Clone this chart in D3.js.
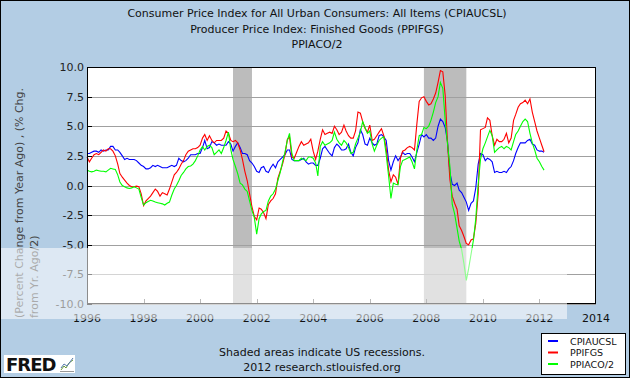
<!DOCTYPE html>
<html><head><meta charset="utf-8">
<script src="https://cdn.jsdelivr.net/npm/d3@7"></script>
<style>html,body{margin:0;padding:0;background:#b3cde4;}svg{display:block;}</style>
</head><body>
<svg id="chart" width="630" height="378"></svg>
<script>
// ---- DATA (monthly, Jan 1996 .. Mar 2012) ----
const startYear = 1996;
const seriesNames = ["CPIAUCSL", "PPIFGS", "PPIACO/2"];
const titleLines = [
  "Consumer Price Index for All Urban Consumers: All Items (CPIAUCSL)",
  "Producer Price Index: Finished Goods (PPIFGS)",
  "PPIACO/2"
];
const cpiaucsl = [
  2.7,2.7,2.8,2.9,2.9,2.8,3.0,2.9,3.0,3.0,3.3,3.3,
  3.0,3.0,2.8,2.5,2.2,2.3,2.2,2.2,2.2,2.1,1.9,1.7,
  1.6,1.4,1.4,1.5,1.7,1.6,1.7,1.6,1.5,1.5,1.5,1.6,
  1.7,1.6,1.7,2.3,2.1,2.0,2.1,2.3,2.6,2.6,2.6,2.7,
  2.7,3.2,3.8,3.1,3.2,3.7,3.6,3.4,3.5,3.4,3.4,3.4,
  3.7,3.5,2.9,3.3,3.6,3.2,2.7,2.7,2.6,2.1,1.9,1.6,
  1.2,1.1,1.5,1.6,1.2,1.1,1.5,1.8,1.5,2.0,2.2,2.4,
  2.6,3.0,3.0,2.2,2.1,2.1,2.1,2.2,2.3,2.0,1.8,1.9,
  1.9,1.7,1.7,2.3,3.1,3.3,3.0,2.7,2.5,3.2,3.5,3.3,
  3.0,3.0,3.1,3.5,2.8,2.5,3.2,3.6,4.7,4.3,3.5,3.4,
  4.0,3.6,3.4,3.5,4.2,4.3,4.1,3.8,2.1,1.3,2.0,2.5,
  2.1,2.4,2.8,2.6,2.7,2.7,2.4,2.0,2.8,3.5,4.3,4.1,
  4.3,4.0,4.0,3.8,4.0,5.0,5.6,5.4,4.9,3.7,1.1,0.1,
  0.0,0.2,-0.4,-0.6,-1.0,-1.4,-2.1,-1.5,-1.3,-0.2,1.8,2.7,
  2.6,2.1,2.3,2.2,2.0,1.1,1.2,1.1,1.1,1.2,1.1,1.4,
  1.6,2.1,2.7,3.2,3.6,3.6,3.6,3.8,3.9,3.5,3.4,3.0,
  2.9,2.9,2.8
];
const ppifgs = [
  2.4,2.0,2.3,2.6,2.7,2.6,2.8,3.0,2.9,3.1,3.1,2.9,
  2.5,1.8,1.0,0.7,0.45,0.2,0.0,-0.1,-0.1,-0.05,-0.1,-0.7,
  -1.7,-1.3,-1.1,-0.9,-0.6,-0.3,-0.5,-0.9,-0.6,-0.7,-0.8,-0.3,
  0.3,0.9,1.1,1.4,1.8,2.1,2.6,2.9,3.0,3.1,3.1,3.2,
  3.4,4.0,4.3,3.8,4.2,3.8,3.6,3.8,3.8,3.8,4.0,4.6,
  4.4,3.8,3.7,3.8,3.6,3.0,2.2,1.2,0.4,-0.7,-1.8,-2.6,
  -2.9,-1.9,-2.0,-2.3,-2.8,-1.6,-1.3,-1.1,-0.7,0.6,1.2,1.8,
  2.6,3.9,4.1,2.4,2.3,2.8,3.3,3.7,3.4,3.5,3.6,3.9,
  2.9,2.2,2.9,3.9,4.7,4.3,4.4,4.5,4.4,5.0,4.7,4.3,
  4.5,5.1,4.6,4.2,4.0,4.0,4.6,6.2,6.1,5.4,4.8,4.5,
  5.1,3.8,3.9,4.2,4.5,4.8,4.2,3.1,1.3,0.3,0.9,0.7,
  0.1,2.3,2.9,3.0,3.2,3.3,3.2,3.0,5.2,7.1,7.4,7.5,
  7.1,6.8,6.9,7.3,7.8,8.7,9.7,9.6,7.6,3.6,0.5,-0.9,
  -1.5,-2.0,-3.4,-3.8,-4.3,-4.9,-5.0,-4.6,-4.5,-3.2,-0.7,4.7,
  4.8,4.9,5.7,5.5,4.2,3.4,3.9,3.7,3.7,3.9,4.4,3.6,
  4.0,5.5,6.0,6.6,6.9,7.0,7.2,6.9,7.3,6.2,5.4,4.6,
  4.0,3.4,2.85
];
const ppiacoHalf = [
  1.3,1.2,1.15,1.2,1.3,1.25,1.2,1.2,1.15,1.3,1.45,1.4,
  1.35,0.9,0.3,0.0,-0.1,-0.2,-0.25,-0.2,-0.1,-0.2,-0.3,-1.0,
  -1.65,-1.45,-1.35,-1.25,-1.3,-1.4,-1.45,-1.5,-1.55,-1.65,-1.5,-1.4,
  -0.8,-0.3,0.0,0.4,0.85,1.1,1.4,1.6,1.65,1.8,2.1,2.5,
  3.0,3.3,3.0,3.3,3.4,3.2,2.6,2.8,3.0,2.7,3.2,3.8,
  4.5,3.0,2.2,1.6,1.0,0.2,0.05,-0.3,-0.5,-1.3,-2.1,-2.7,
  -4.1,-2.8,-2.4,-2.2,-2.1,-1.3,-0.9,-0.7,-0.3,0.4,1.1,2.0,
  2.8,3.8,4.4,2.7,2.1,2.1,2.1,2.3,2.2,2.1,2.4,2.4,
  2.3,1.9,0.8,3.3,3.7,3.4,3.5,3.6,3.8,4.5,3.9,3.6,
  3.4,3.8,3.6,3.2,2.7,2.8,3.5,4.0,4.5,5.4,4.9,4.4,
  4.6,3.5,2.9,3.4,3.8,4.0,4.1,2.6,0.8,-1.1,0.2,0.1,
  0.05,1.6,2.1,2.2,2.3,2.4,2.0,1.4,3.0,4.2,4.3,4.9,
  4.8,5.0,5.5,6.2,7.0,7.5,8.7,8.2,5.5,3.5,1.6,-1.6,
  -2.4,-3.6,-4.7,-5.4,-6.6,-8.0,-7.0,-5.8,-4.6,-2.8,0.1,2.2,
  3.1,3.6,4.1,4.65,4.2,2.8,3.0,3.2,3.3,3.1,3.3,3.2,
  3.0,3.7,4.3,4.6,5.0,5.4,5.6,5.4,4.4,3.6,3.0,2.3,
  2.0,1.6,1.3
];
const yTicks = [10.0, 7.5, 5.0, 2.5, 0.0, -2.5, -5.0, -7.5, -10.0];
const xTickYears = [1996, 1998, 2000, 2002, 2004, 2006, 2008, 2010, 2012, 2014];
const recessions = [["2001-03-01", "2001-11-01"], ["2007-12-01", "2009-06-01"]];
const yLabelLines = ["(Percent Change from Year Ago) , (% Chg.", "from Yr. Ago/2)"];
const footLines = ["Shaded areas indicate US recessions.", "2012 research.stlouisfed.org"];

// ---- CHART ----
(function () {
const svg = d3.select("#chart");
const font = "'DejaVu Sans', sans-serif";
const W = 630, H = 378;
const pL = 87, pR = 596, pT = 67, pB = 304;

svg.append("rect").attr("x", 0).attr("y", 0).attr("width", W).attr("height", H).attr("fill", "#b3cde4");

const x = d3.scaleTime().domain([new Date(1996, 0, 1), new Date(2014, 0, 1)]).range([pL, pR]);
const y = d3.scaleLinear().domain([-10, 10]).range([pB, pT]);
const parse = d3.timeParse("%Y-%m-%d");
const dates = cpiaucsl.map((_, i) => new Date(startYear, i, 1));

svg.selectAll("text.title").data(titleLines).join("text")
  .attr("x", 317).attr("y", (d, i) => 17 + i * 15.5)
  .attr("text-anchor", "middle").attr("font-family", font).attr("font-size", 11)
  .attr("fill", "#111").text(d => d);

svg.append("rect").attr("x", pL).attr("y", pT).attr("width", pR - pL).attr("height", pB - pT).attr("fill", "#fff");

svg.selectAll("rect.rec").data(recessions).join("rect")
  .attr("x", d => x(parse(d[0]))).attr("y", pT)
  .attr("width", d => x(parse(d[1])) - x(parse(d[0]))).attr("height", pB - pT)
  .attr("fill", "#bcbcbc");

svg.selectAll("line.grid").data(yTicks).join("line")
  .attr("x1", pL).attr("x2", pR)
  .attr("y1", d => Math.round(y(d)) + 0.5).attr("y2", d => Math.round(y(d)) + 0.5)
  .attr("stroke", "#a0a0a0").attr("stroke-width", 1);

svg.selectAll("line.ytick").data(yTicks).join("line")
  .attr("x1", pL).attr("x2", pL + 5)
  .attr("y1", d => Math.round(y(d)) + 0.5).attr("y2", d => Math.round(y(d)) + 0.5)
  .attr("stroke", "#000");
svg.selectAll("text.ylab").data(yTicks).join("text")
  .attr("x", 84).attr("y", d => y(d) + 4)
  .attr("text-anchor", "end").attr("font-family", font).attr("font-size", 11)
  .attr("fill", "#222").text(d => d.toFixed(1));

svg.selectAll("line.xtick").data(xTickYears.slice(1, -1)).join("line")
  .attr("x1", d => Math.round(x(new Date(d, 0, 1))) + 0.5).attr("x2", d => Math.round(x(new Date(d, 0, 1))) + 0.5)
  .attr("y1", pB).attr("y2", pB - 5)
  .attr("stroke", "#666");
svg.selectAll("text.xlab").data(xTickYears).join("text")
  .attr("x", d => x(new Date(d, 0, 1))).attr("y", 322)
  .attr("text-anchor", "middle").attr("font-family", font).attr("font-size", 11)
  .attr("fill", "#111").text(d => d);

const line = d3.line().x((d, i) => x(dates[i])).y(d => y(d));
const series = [
  {name: seriesNames[0], values: cpiaucsl, color: "#0000ff"},
  {name: seriesNames[1], values: ppifgs, color: "#ff0000"},
  {name: seriesNames[2], values: ppiacoHalf, color: "#00ff00"}
];
svg.selectAll("path.series").data(series).join("path")
  .attr("d", d => line(d.values)).attr("fill", "none")
  .attr("stroke", d => d.color).attr("stroke-width", 1.1);

svg.append("rect").attr("x", pL + 0.5).attr("y", pT + 0.5).attr("width", pR - pL - 1).attr("height", pB - pT - 1)
  .attr("fill", "none").attr("stroke", "#000");

yLabelLines.forEach((t, i) => {
  svg.append("text").attr("transform", `translate(${23 + i * 15},318) rotate(-90)`)
    .attr("text-anchor", "start").attr("font-family", font).attr("font-size", 11)
    .attr("fill", "#444").text(t);
});

svg.append("rect").attr("x", 0).attr("y", 248).attr("width", 567).attr("height", 71)
  .attr("fill", "#fff").attr("opacity", 0.55);

svg.selectAll("text.foot").data(footLines).join("text")
  .attr("x", 322).attr("y", (d, i) => 356 + i * 15)
  .attr("text-anchor", "middle").attr("font-family", font).attr("font-size", 11)
  .attr("fill", "#111").text(d => d);

const logo = svg.append("g");
logo.append("rect").attr("x", 4).attr("y", 355).attr("width", 71).attr("height", 18).attr("fill", "#fff");
logo.append("text").attr("x", 6).attr("y", 371).attr("font-family", font).attr("font-weight", 900)
  .attr("font-size", 18).attr("fill", "#111").attr("letter-spacing", -1).text("FRED");
logo.append("polyline").attr("points", "61,370 64,366 66,368 69,363 73,360").attr("fill", "none").attr("stroke", "#6a9a3a").attr("stroke-width", 1);
logo.append("polyline").attr("points", "61,368 64,364 67,366 70,362 73,358").attr("fill", "none").attr("stroke", "#5577aa").attr("stroke-width", 1);
logo.append("line").attr("x1", 60).attr("x2", 74).attr("y1", 371.5).attr("y2", 371.5).attr("stroke", "#999");

const lg = svg.append("g");
lg.append("rect").attr("x", 541.5).attr("y", 333.5).attr("width", 84).attr("height", 41).attr("fill", "#fff").attr("stroke", "#000");
series.forEach((s, i) => {
  const yy = 341 + i * 11.5;
  lg.append("line").attr("x1", 548).attr("x2", 558).attr("y1", yy).attr("y2", yy).attr("stroke", s.color).attr("stroke-width", 2);
  lg.append("text").attr("x", 570).attr("y", yy + 3.5).attr("font-family", font).attr("font-size", 9.5)
    .attr("fill", "#111").text(s.name);
});

svg.append("rect").attr("x", 0.5).attr("y", 0.5).attr("width", W - 1).attr("height", H - 1).attr("fill", "none").attr("stroke", "#000");
})();
</script>
</body></html>
